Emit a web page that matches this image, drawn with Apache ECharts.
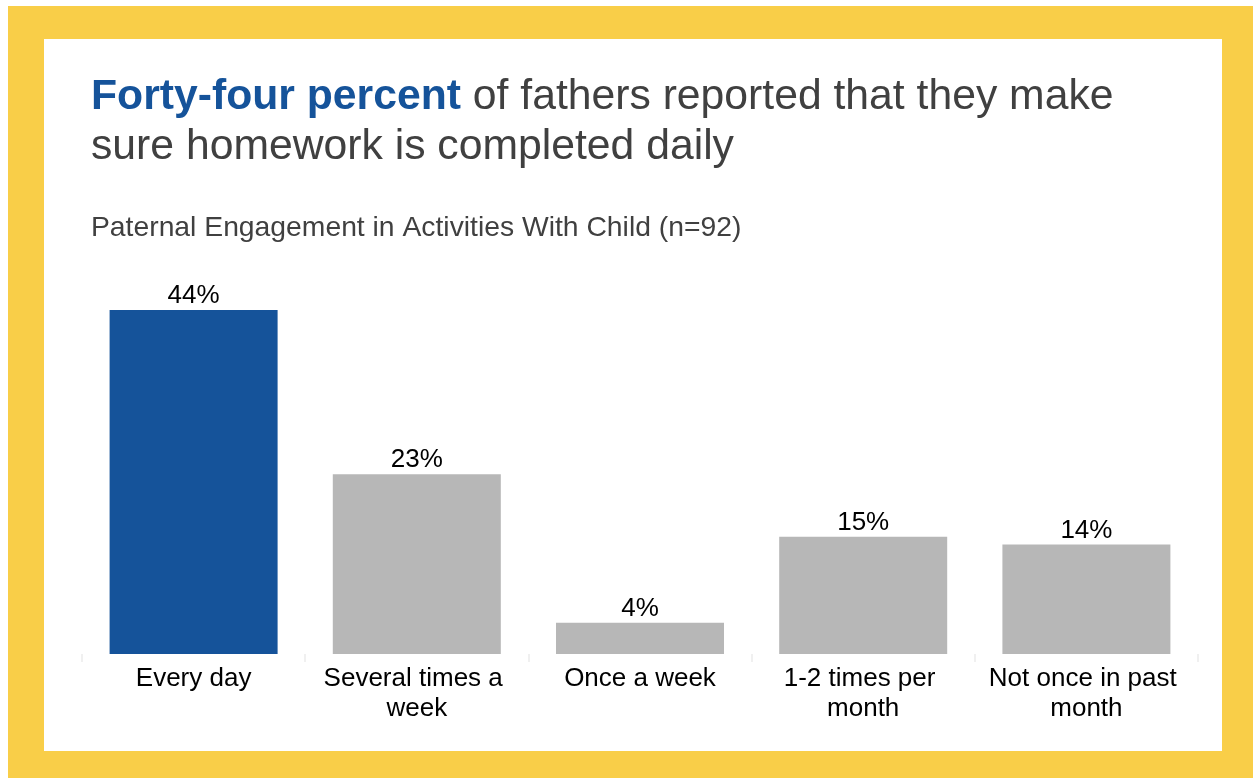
<!DOCTYPE html>
<html>
<head>
<meta charset="utf-8">
<title>Paternal Engagement in Activities With Child</title>
<script src="https://cdn.jsdelivr.net/npm/echarts@6/dist/echarts.min.js"></script>
<style>
  html, body { margin: 0; padding: 0; background: #ffffff; }
  #chart { width: 1253px; height: 778px; }
</style>
</head>
<body>
<div id="chart"></div>
<script>
// Frequency of making sure homework is completed (n=92)
const categories = ['Every day', 'Several times a week', 'Once a week', '1-2 times per month', 'Not once in past month'];
const percentages = [44, 23, 4, 15, 14];

const FONT = "'Liberation Sans', Arial, sans-serif";
const BLUE = '#15539A';
const GREY = '#B7B7B7';
const YELLOW = '#F9CE48';
const TEXT_DARK = '#404040';

const chart = echarts.init(document.getElementById('chart'), null, { renderer: 'canvas' });

chart.setOption({
  animation: false,
  backgroundColor: '#ffffff',
  graphic: [
    { type: 'rect', z: -20, shape: { x: 8, y: 6, width: 1245, height: 772 }, style: { fill: YELLOW } },
    { type: 'rect', z: -19, shape: { x: 44, y: 39, width: 1178, height: 712 }, style: { fill: '#ffffff' } }
  ],
  title: [
    {
      left: 86,
      top: 67,
      text: '{b|Forty-four percent}{n|\u00A0of fathers reported that they make}\n{n|sure homework is completed daily}',
      textStyle: {
        rich: {
          b: { fontFamily: FONT, fontSize: 42.7, fontWeight: 'bold', color: BLUE, lineHeight: 50 },
          n: { fontFamily: FONT, fontSize: 42.7, fontWeight: 'normal', color: TEXT_DARK, lineHeight: 50 }
        }
      }
    },
    {
      left: 86,
      top: 206,
      text: 'Paternal Engagement in Activities With Child (n=92)',
      textStyle: { fontFamily: FONT, fontSize: 28.3, fontWeight: 'normal', color: TEXT_DARK, lineHeight: 34 }
    }
  ],
  grid: { left: 82, right: 55, top: 310, bottom: 124, containLabel: false },
  xAxis: {
    type: 'category',
    data: categories,
    axisLine: { show: false },
    axisTick: { show: true, length: 8, lineStyle: { color: '#F0F0F0', width: 2 } },
    axisLabel: {
      interval: 0,
      margin: 10,
      fontFamily: FONT,
      fontSize: 26,
      lineHeight: 30,
      color: '#000000',
      width: 212,
      overflow: 'break',
      align: 'center'
    }
  },
  yAxis: {
    type: 'value',
    min: 0,
    max: 44,
    show: false,
    splitLine: { show: false }
  },
  series: [
    {
      type: 'bar',
      data: percentages,
      barWidth: 168,
      itemStyle: {
        color: function (p) { return p.dataIndex === 0 ? BLUE : GREY; }
      },
      label: {
        show: true,
        position: 'top',
        distance: 1,
        fontFamily: FONT,
        fontSize: 26,
        color: '#000000',
        formatter: '{c}%'
      }
    }
  ]
});
</script>
</body>
</html>
